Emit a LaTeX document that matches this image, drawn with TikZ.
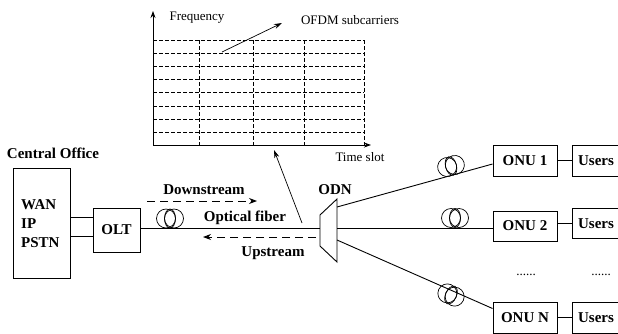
\documentclass[tikz,border=0pt]{standalone}
\usepackage{fontspec}
\setmainfont{Liberation Serif}
\usetikzlibrary{arrows.meta}
\begin{document}
\begin{tikzpicture}[x=1pt,y=-1pt,
  lbl/.style={font=\fontsize{13}{15}\selectfont, inner sep=0pt},
  blbl/.style={font=\fontsize{15}{17}\selectfont\bfseries, inner sep=0pt},
  box/.style={draw, line width=0.9pt, inner sep=0pt, font=\fontsize{15}{17}\selectfont\bfseries},
  gridline/.style={dash pattern=on 4pt off 2pt, line width=0.6pt},
  axis/.style={line width=0.8pt, -{Stealth[length=7pt,width=5pt]}},
  fib/.style={line width=0.9pt},
  flow/.style={line width=0.9pt, dash pattern=on 8pt off 5pt, -{Stealth[length=8pt,width=6pt]}},
  pointer/.style={line width=0.7pt, -{Stealth[length=8pt,width=5pt]}},
  coil/.pic={
    \draw[line width=0.7pt] (-4,0) circle[radius=9.5];
    \draw[line width=0.7pt] (4,0) circle[radius=9.5];
    \draw[line width=0.7pt] (0,0) ellipse[x radius=5.5, y radius=9.5];
  }
]
\useasboundingbox (0,0) rectangle (618,333);

% ---------- time/frequency graph ----------
\coordinate (o) at (153,145);
\coordinate (ytop) at (153,11);
\coordinate (xend) at (371,145);
\foreach \y in {40,53,66,79,92,106,119,132}
  \draw[gridline] (153,\y) -- (364,\y);
\foreach \x in {199,253,304,364}
  \draw[gridline] (\x,40) -- (\x,145);
\draw[axis] (o) -- (ytop);
\draw[axis] (o) -- (xend);
\node[lbl] (freq) at (197,18) {Frequency};
\node[lbl] (ofdm) at (350,20) {OFDM subcarriers};
\node[lbl] (tslot) at (360,157) {Time slot};
\coordinate (sub1) at (222,52);
\coordinate (sub2) at (282,23);
\draw[pointer] (sub1) -- (sub2);

% ---------- central office ----------
\node[blbl] (cotitle) at (53,153) {Central Office};
\node[box, minimum width=57pt, minimum height=110pt] (co) at (41.5,223) {};
\node[anchor=west, align=left, inner sep=0pt, font=\fontsize{15}{19}\selectfont\bfseries] (cotext) at (21,224) {WAN\\IP\\PSTN};
\node[box, minimum width=47pt, minimum height=44pt] (olt) at (116.5,230) {OLT};
\coordinate (ya) at (0,217);
\coordinate (yb) at (0,236);
\draw[fib] (co.east |- ya) -- (olt.west |- ya);
\draw[fib] (co.east |- yb) -- (olt.west |- yb);

% ---------- ODN splitter ----------
\draw[line width=0.9pt] (320,215) -- (337,199) -- (337,262) -- (320,246) -- cycle;
\coordinate (odnl) at (320,228);
\coordinate (odnr1) at (337,207);
\coordinate (odnr2) at (337,228);
\coordinate (odnr3) at (337,240);
\node[blbl] (odn) at (335,190) {ODN};

% trunk fiber
\draw[fib] (olt.east |- odnl) -- (odnl);
\pic at (170,218.5) {coil};
\node[blbl] (down) at (204,190) {Downstream};
\node[blbl] (optf) at (245,218) {Optical fiber};
\node[blbl] (up) at (273,253) {Upstream};
\coordinate (d1) at (147,201);
\coordinate (d2) at (257,201);
\coordinate (u1) at (316,237);
\coordinate (u2) at (203,237);
\draw[flow] (d1) -- (d2);
\draw[flow] (u1) -- (u2);
\coordinate (p1) at (302,223);
\coordinate (p2) at (274,150);
\draw[pointer] (p1) -- (p2);

% ---------- ONUs ----------
\node[box, minimum width=64pt, minimum height=31pt] (onu1) at (525,160.5) {ONU 1};
\node[box, minimum width=64pt, minimum height=30pt] (onu2) at (525,226) {ONU 2};
\node[box, minimum width=64pt, minimum height=31pt] (onun) at (525,317.5) {ONU N};
\node[box, minimum width=48pt, minimum height=31pt] (us1) at (596,160.5) {Users};
\node[box, minimum width=48pt, minimum height=30pt] (us2) at (596,223.5) {Users};
\node[box, minimum width=48pt, minimum height=31pt] (usn) at (596,317.5) {Users};
\draw[fib] (onu1.east) -- (onu1.east -| us1.west);
\draw[fib] (onu2.east |- us2.west) -- (us2.west);
\draw[fib] (onun.east) -- (onun.east -| usn.west);

\draw[fib] (odnr1) -- ([yshift=-3.5pt]onu1.west);
\draw[fib] (odnr2) -- (odnr2 -| onu2.west);
\draw[fib] (odnr3) -- ([yshift=9pt]onun.west);
\pic[rotate=15] at (451,166) {coil};
\pic at (455,218) {coil};
\pic[rotate=-24] at (451,295) {coil};

\node[lbl] (dots1) at (526,275) {......};
\node[lbl] (dots2) at (601,275) {......};
\end{tikzpicture}
\end{document}
